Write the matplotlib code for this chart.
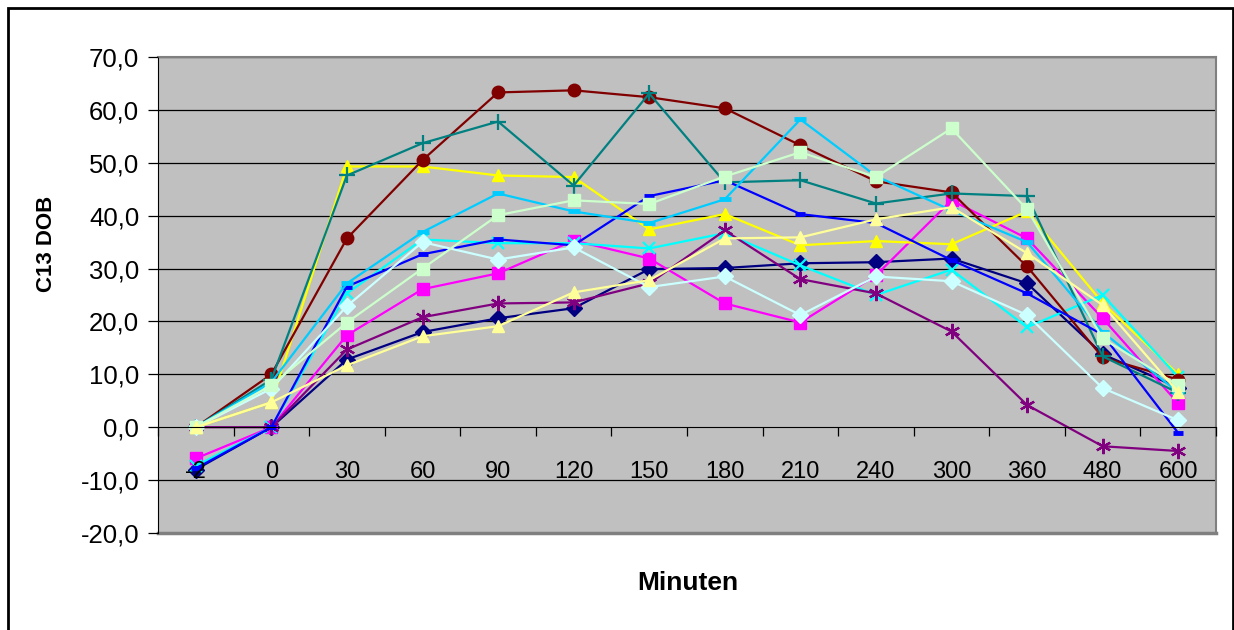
import numpy as np
import matplotlib
matplotlib.use('Agg')
import matplotlib.pyplot as plt
from matplotlib.patches import Rectangle
from matplotlib.ticker import FuncFormatter

plt.rcParams['font.family'] = ['Liberation Sans', 'DejaVu Sans']

minuten = ['-2', '0', '30', '60', '90', '120', '150', '180', '210', '240', '300', '360', '480', '600']

# C13 DOB values per subject
s_navy = [-8.0, 0, 12.8, 18.0, 20.6, 22.5, 29.9, 30.1, 31.0, 31.2, 31.9, 27.2, 13.8, 7.5]
s_magenta = [-5.9, 0, 17.4, 26.1, 29.1, 35.3, 31.9, 23.4, 19.8, 28.7, 42.9, 35.7, 20.6, 4.5]
s_yellow = [0, 4.7, 49.3, 49.3, 47.6, 47.3, 37.4, 40.3, 34.4, 35.2, 34.6, 40.8, 23.5, 10.0]
s_cyan = [-7.3, 0, 25.3, 35.5, 34.8, 34.8, 33.8, 36.7, 30.6, 25.0, 29.8, 18.9, 25.0, 9.5]
s_purple = [0, 0, 14.7, 20.8, 23.4, 23.6, 27.2, 37.2, 28.0, 25.3, 18.1, 4.2, -3.6, -4.5]
s_darkred = [0, 10.0, 35.7, 50.5, 63.3, 63.7, 62.4, 60.3, 53.3, 46.5, 44.4, 30.4, 13.2, 9.0]
s_teal = [0, 9.0, 47.6, 53.7, 57.8, 45.7, 63.1, 46.3, 46.7, 42.3, 44.2, 43.7, 13.4, 6.5]
s_blue = [-7.8, 0, 26.6, 32.7, 35.5, 34.4, 43.7, 46.7, 40.3, 38.6, 31.6, 25.3, 17.5, -1.1]
s_skyblue = [0, 8.5, 27.2, 36.9, 44.2, 40.8, 38.6, 43.1, 58.2, 47.5, 41.0, 35.0, 18.0, 6.6]
s_lightcyan = [0, 7.3, 22.9, 35.0, 31.7, 34.0, 26.5, 28.5, 21.2, 28.5, 27.6, 21.2, 7.4, 1.3]
s_lightgreen = [0, 7.9, 19.8, 30.0, 40.1, 42.9, 42.2, 47.4, 52.0, 47.3, 56.5, 41.2, 16.8, 7.9]
s_lightyellow = [0, 4.7, 11.7, 17.2, 19.1, 25.5, 27.8, 35.7, 35.9, 39.3, 41.6, 32.9, 23.1, 6.6]

series = [
    (s_navy, '#000080', 'D', 8),
    (s_magenta, '#FF00FF', 's', 8),
    (s_yellow, '#FFFF00', '^', 9),
    (s_cyan, '#00FFFF', 'x', 9),
    (s_purple, '#800080', (6, 2, 0), 11),
    (s_darkred, '#800000', 'o', 9),
    (s_teal, '#008080', '+', 11),
    (s_blue, '#0000FF', '_', 7),
    (s_skyblue, '#00CCFF', '_', 9),
    (s_lightcyan, '#CCFFFF', 'D', 8),
    (s_lightgreen, '#CCFFCC', 's', 9),
    (s_lightyellow, '#FFFF99', '^', 9),
]

fig = plt.figure(figsize=(12.34, 6.3), dpi=100)
ax = fig.add_axes([158/1234, 1-533/630, (1216-158)/1234, (533-57)/630])
ax.set_facecolor('#C0C0C0')

x = np.arange(len(minuten))
for vals, col, mk, ms in series:
    if mk in ('x', '+', '_') or isinstance(mk, tuple):
        mew = 3.5 if mk == '_' else 1.6
        ax.plot(x, vals, color=col, lw=1.6, marker=mk, ms=ms, mew=mew, mec=col, zorder=2)
    else:
        ax.plot(x, vals, color=col, lw=1.6, marker=mk, ms=ms, mec=col, mfc=col, zorder=2)

ax.set_xlim(-0.5, len(minuten) - 0.5)
ax.set_ylim(-20, 70)
yt = np.arange(-20, 71, 10)
ax.set_yticks(yt)
ax.yaxis.set_major_formatter(FuncFormatter(lambda v, p: ('%.1f' % v).replace('.', ',')))
# gridlines below the data, axis (labels) above
for v in yt:
    if v not in (0, -20):
        ax.axhline(v, color='black', lw=0.9, zorder=1)
ax.set_axisbelow(False)
ax.xaxis.set_zorder(5)

ax.set_xticks(x)
ax.set_xticklabels(minuten)
ax.set_xticks(np.arange(-0.5, len(minuten), 1), minor=True)
ax.tick_params(axis='x', which='major', length=0, pad=24, labelsize=17)
ax.tick_params(axis='x', which='minor', length=6.5, width=0.9, direction='out')
ax.tick_params(axis='y', length=7.5, width=0.9, pad=6, labelsize=18.5)

ax.spines['bottom'].set_position(('data', 0))
ax.spines['bottom'].set_color('black')
ax.spines['left'].set_color('black')
for s in ('top', 'right'):
    ax.spines[s].set_color('#808080')
    ax.spines[s].set_linewidth(1.5)
ax.axhline(-20, color='#808080', lw=2.5, clip_on=False, zorder=0.5)

fig.text(46/1234, 1-244/630, 'C13 DOB', rotation=90, ha='center', va='center',
         fontsize=16, fontweight='bold')
fig.text(688/1234, 1-583/630, 'Minuten', ha='center', va='center',
         fontsize=19, fontweight='bold')

fig.patches.append(Rectangle((8/1234, -0.05), (1233-8)/1234, 1-8/630+0.05,
                             transform=fig.transFigure, fill=False,
                             edgecolor='black', lw=2))

fig.savefig('out.png', dpi=100)
